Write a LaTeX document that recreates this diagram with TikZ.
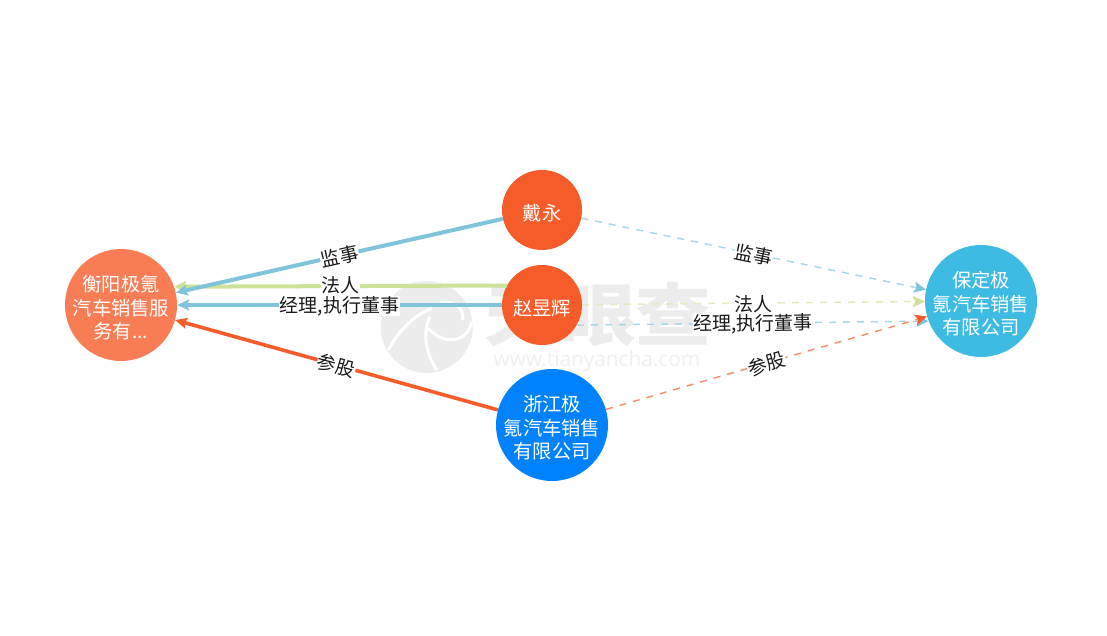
\documentclass[tikz,border=0pt]{standalone}
\usepackage{fontspec}
\setmainfont{Noto Sans CJK SC}
\newfontfamily\wmfont{Open Sans}
\usetikzlibrary{arrows.meta}
\definecolor{eblue}{HTML}{7FC4DA}
\definecolor{egreen}{HTML}{CBE298}
\definecolor{eorange}{HTML}{F55C2A}
\definecolor{dblue}{HTML}{A3D6E8}
\definecolor{dgreen}{HTML}{DCECBC}
\definecolor{dorange}{HTML}{F98A66}
\definecolor{wm}{HTML}{ECECEC}
\definecolor{wmlight}{HTML}{F0F0F0}
\definecolor{leftfill}{HTML}{F87C54}
\newcommand\ntxt[1]{\makebox[0pt]{\raisebox{-8pt}[0pt][0pt]{\parbox{110pt}{\centering #1}}}}
\tikzset{
  circ/.style={circle,inner sep=0pt,text=white,font=\fontsize{19.3}{23.6}\selectfont},
  small/.style={circ,minimum size=80pt},
  big/.style={circ,minimum size=112pt},
  lab/.style={midway,sloped,fill=white,inner sep=0.5pt,yshift=-1pt,text=black!90,font=\fontsize{19}{19}\selectfont},
  tipb/.style={-{Stealth[length=12pt,width=11pt,inset=2.5pt,color=#1]}},
  dashededge/.style={line width=1.4pt,dash pattern=on 7pt off 7pt},
  swirl/.style={white,line width=3pt},
}
\begin{document}
\begin{tikzpicture}[x=1pt,y=-1pt]
\useasboundingbox (0,0) rectangle (1107,636);
\fill[white] (0,0) rectangle (1107,636);
% watermark
\fill[wm] (426.7,327) circle (46);
\draw[swirl] (388.3,350) .. controls (398.3,331.7) and (411.7,316.7) .. (431.7,308.3);
\draw[swirl] (436.7,370) .. controls (426.7,355) and (421.7,335) .. (430,316.7);
\draw[swirl] (471.7,321.7) .. controls (468.3,341.7) and (445,346.7) .. (428.3,328.3);
\draw[swirl] (440,302.3) .. controls (451.7,300) and (465,306.7) .. (462.3,320);
\node[text=wm,font=\fontsize{68}{68}\selectfont\bfseries,inner sep=0pt,xscale=1.11] (wmt) at (598,315) {天眼查};
\node[text=wmlight,font=\wmfont\fontsize{20.8}{20.8}\selectfont,inner sep=0pt] (wmu) at (597,361) {www.tianyancha.com};
% nodes
\node[big,fill=leftfill] (left) at (121,305) {\ntxt{衡阳极氪\\汽车销售服\\务有...}};
\node[small,fill=eorange] (dai) at (542,210) {\ntxt{戴永}};
\node[small,fill=eorange] (zhao) at (542,305) {\ntxt{赵昱辉}};
\node[big,fill={rgb,255:red,0;green,130;blue,255}] (zj) at (552,425) {\ntxt{浙江极\\氪汽车销售\\有限公司}};
\node[big,fill={rgb,255:red,62;green,187;blue,226}] (right) at (981,301) {\ntxt{保定极\\氪汽车销售\\有限公司}};
% left edges
\draw[eorange,line width=3.6pt,tipb=eorange] (zj) -- node[lab] {参股} (left);
\draw[egreen,line width=4pt,tipb=egreen] (zhao.151.6) -- node[lab,yshift=1.5pt] {法人} (left.19.8);
\draw[eblue,line width=4pt,tipb=eblue] (zhao) -- node[lab] {经理,执行董事} (left);
\draw[eblue,line width=4pt,tipb=eblue] (dai) -- node[lab] {监事} (left);
% right edges
\draw[dblue,dashededge,tipb=eblue] (dai) -- node[lab] {监事} (right);
\draw[dgreen,dashededge,tipb=egreen] (zhao) -- node[lab] {法人} (right);
\draw[dblue,dashededge,tipb=eblue] (zhao.-30) -- node[lab] {经理,执行董事} (right.-159);
\draw[dorange,dashededge,tipb=eorange] (zj) -- node[lab] {参股} (right);
\end{tikzpicture}
\end{document}
